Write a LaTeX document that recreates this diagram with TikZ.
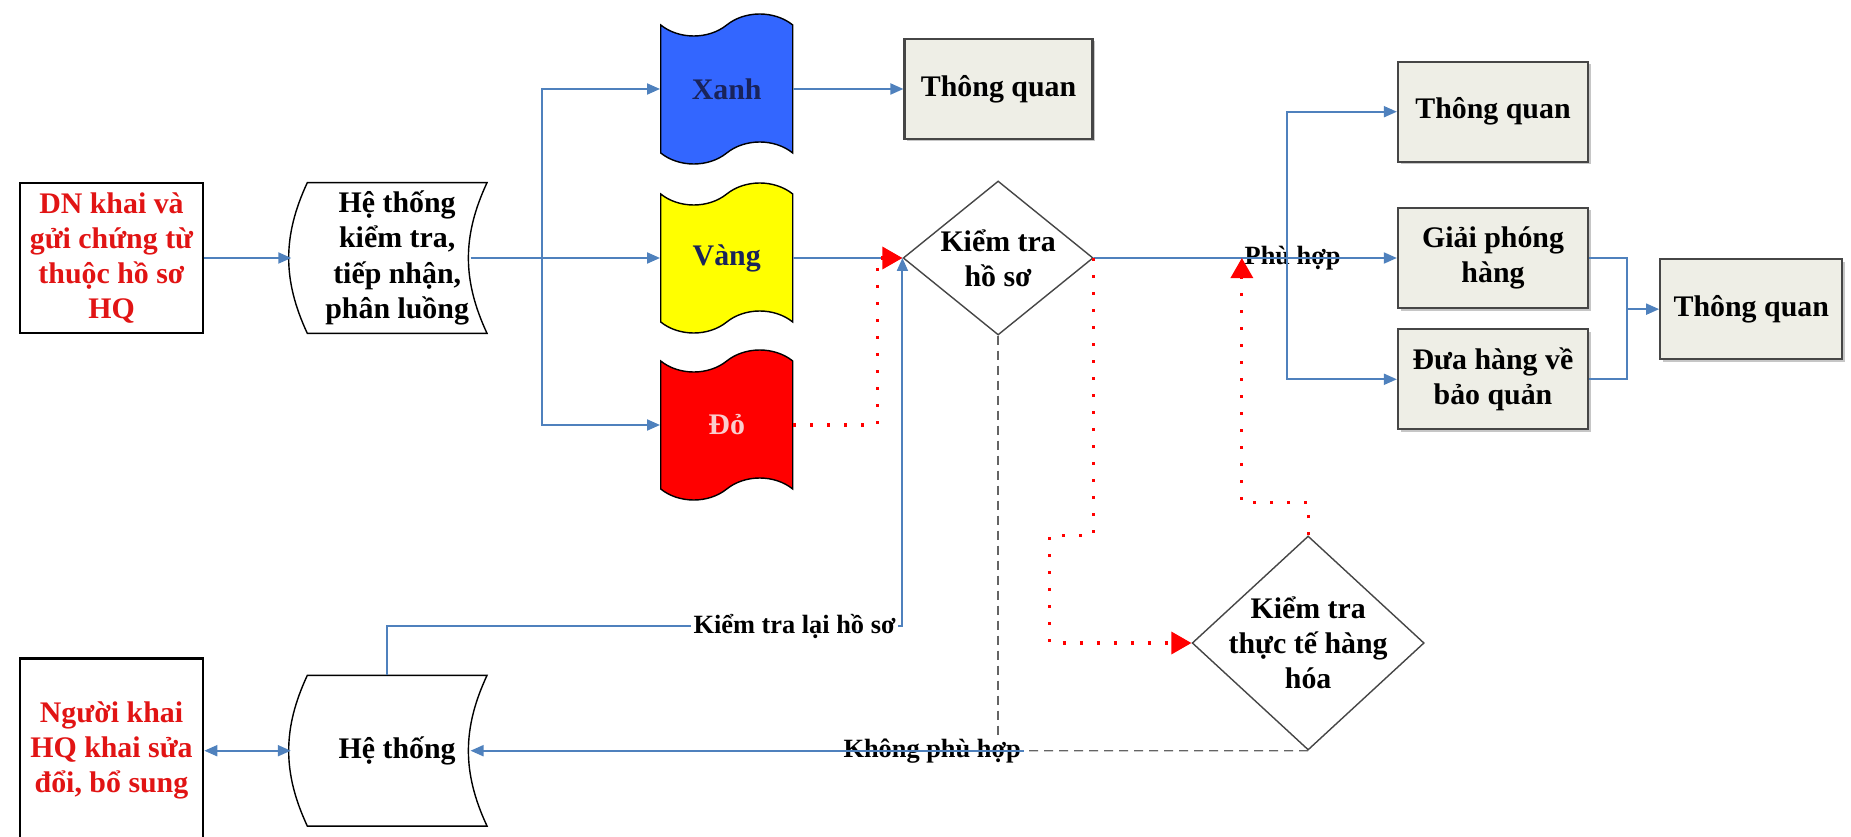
\documentclass[tikz,border=0pt]{standalone}
\usepackage{fontspec}
\setmainfont{Liberation Serif}
\usetikzlibrary{arrows.meta,positioning,shapes.geometric,shapes.symbols,shadows}
\definecolor{flowblue}{RGB}{79,129,189}
\definecolor{boxgray}{RGB}{238,238,230}
\definecolor{edgegray}{RGB}{70,70,70}
\definecolor{laneblue}{RGB}{51,102,255}
\definecolor{laneyellow}{RGB}{255,255,0}
\definecolor{lanered}{RGB}{255,0,0}
\definecolor{textred}{RGB}{225,20,20}
\definecolor{navy}{RGB}{25,35,90}
\definecolor{palepink}{RGB}{250,205,205}
\definecolor{dashgray}{RGB}{100,100,100}

\begin{document}
\begin{tikzpicture}[x=0.2mm, y=-0.2mm,
    base/.style={align=center, font=\fontsize{17}{20}\selectfont\bfseries, inner sep=1mm},
    start/.style={base, rectangle, draw=black, line width=1.5pt, text=textred,
        minimum width=36.6mm, minimum height=30mm},
    store/.style={base, rectangle, minimum width=35.8mm, minimum height=30mm},
    lane/.style={base, tape, draw=black, line width=0.8pt, minimum width=26.4mm,
        minimum height=30mm, tape bend height=4.4mm},
    result/.style={base, rectangle, draw=edgegray, line width=1.3pt, fill=boxgray,
        minimum width=38mm, minimum height=20mm,
        drop shadow={shadow xshift=0.5mm, shadow yshift=-0.5mm, opacity=0.45}},
    check/.style={base, diamond, draw=edgegray, line width=0.8pt, inner sep=-3mm},
    lbl/.style={font=\fontsize{15}{17}\selectfont\bfseries, inner sep=0.5mm},
    line/.style={draw=flowblue, line width=1.1pt},
    tip/.style={-{Triangle[length=2.6mm, width=2.2mm]}},
    flow/.style={line, tip},
    redflow/.style={draw=red, line width=1.8pt, dash pattern=on 0.6mm off 2.8mm,
        -{Triangle[length=4mm, width=4.4mm]}},
    dashline/.style={draw=dashgray, line width=0.8pt, dash pattern=on 1.8mm off 1.2mm}]
\useasboundingbox (0,0) rectangle (1851,837);

% top row
\node[start] (dn) at (111.5,258) {DN khai và\\gửi chứng từ\\thuộc hồ sơ\\HQ};
\node[store, right=20.6mm of dn] (ht1) {Hệ thống\\kiểm tra,\\tiếp nhận,\\phân luồng};
\node[lane, fill=laneyellow, text=navy, right=34.6mm of ht1] (vang) {Vàng};
\node[lane, fill=laneblue, text=navy, on grid, above=33.8mm of vang] (xanh) {Xanh};
\node[lane, fill=lanered, text=palepink, on grid, below=33.4mm of vang] (do) {Đỏ};
\node[result, minimum width=37.6mm, right=22mm of xanh] (tq1) {Thông quan};
\node[check, minimum width=38mm, minimum height=30.8mm, right=21.8mm of vang] (d1) {Kiểm tra\\hồ sơ};
\node[check, minimum width=46.4mm, minimum height=42.8mm, on grid,
    below right=77mm and 62mm of d1] (d2) {Kiểm tra\\thực tế hàng\\hóa};

% right column
\node[result, right=60.6mm of d1] (gp) {Giải phóng\\hàng};
\node[result, above=8.8mm of gp] (tq2) {Thông quan};
\node[result, below=3.8mm of gp] (dh) {Đưa hàng về\\bảo quản};
\node[result, minimum width=36.4mm, right=14mm of gp.south east] (tq3) {Thông quan};

% bottom row
\node[store, below=68.4mm of ht1] (ht2) {Hệ thống};
\node[start, minimum height=36.8mm, left=20.6mm of ht2] (nk) {Người khai\\HQ khai sửa\\đổi, bổ sung};

\foreach \s in {ht1,ht2}
  \draw[line width=0.8pt] (\s.north west) to[bend right=25] (\s.south west)
      -- (\s.south east) to[bend left=25] (\s.north east) -- cycle;

% labels
\coordinate (recheck) at ([yshift=9.8mm]ht2.north);
\coordinate (okin) at ([xshift=29.6mm]d1.east);
\coordinate (split) at ([xshift=11mm]ht1.east);
\coordinate (split2) at ([xshift=38.6mm]d1.east);
\coordinate (merge) at ([xshift=7.6mm]gp.east);
\coordinate (rdown) at (d1.east |- d2.north);
\node[lbl, anchor=west] (lblok) at (okin) {Phù hợp};
\node[lbl] (lblno) at ([xshift=-13.2mm]d1.south |- ht2) {Không phù hợp};

% connectors
\draw[flow] (dn) -- ([xshift=-3.2mm]ht1.west);
\draw[line] ([xshift=-3.3mm]ht1.east) -- (split);
\foreach \t in {xanh,vang,do}
  \draw[flow] (split) |- (\t);
\draw[flow] (xanh) -- (tq1);
\draw[flow] (vang) -- (d1);
\draw[flow] ([xshift=-2mm]ht2.north) |- (recheck -| d1.west) -- (d1.west);
\node[lbl, fill=white, anchor=east] (lblre) at ([xshift=-0.8mm]recheck -| d1.west) {Kiểm tra lại hồ sơ};
\draw[redflow] (do) -| ([xshift=-5mm]d1.west) -- (d1.west);
\draw[line] (d1.east) -- (split2);
\foreach \b in {tq2,gp,dh}
  \draw[flow] (split2) |- (\b);
\draw[line] (gp.east) -| (merge) |- (dh.east);
\draw[flow] (merge |- tq3) -- (tq3);
\draw[redflow] (d1.east) -- (rdown) -- ([xshift=-8.8mm]rdown) |- (d2.west);
\draw[redflow] (d2.north) -- ++(0,6.6mm) -| (okin);
\draw[dashline] (d1.south) -- (d1.south |- lblno.north);
\draw[dashline] (d2.south) -- (lblno.east);
\draw[flow] (lblno.east) -- ([xshift=-3.3mm]ht2.east);
\draw[line, {Triangle[length=2.6mm, width=2.2mm]}-{Triangle[length=2.6mm, width=2.2mm]}]
    (nk) -- ([xshift=-3.3mm]ht2.west);
\end{tikzpicture}
\end{document}
